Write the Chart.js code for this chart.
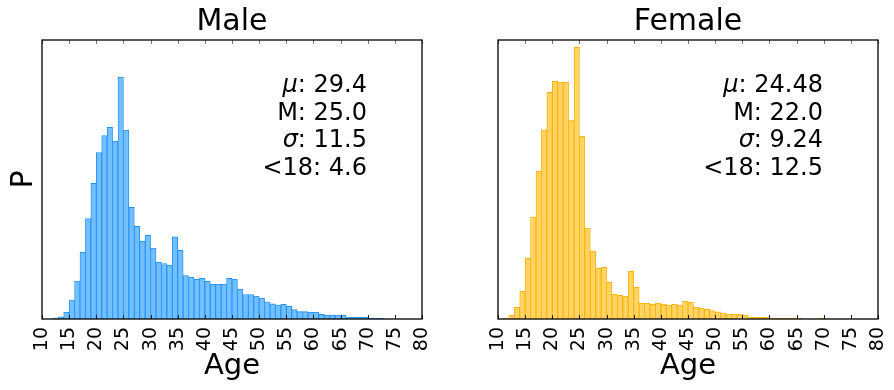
<!DOCTYPE html>
<html>
<head>
<meta charset="utf-8">
<script src="https://cdn.jsdelivr.net/npm/chart.js@4/dist/chart.umd.min.js"></script>
<style>
  body { margin: 0; background: #fff; }
  .panel { position: absolute; top: 0; width: 447px; height: 390px; }
</style>
</head>
<body>
<div class="panel" style="left:0"><canvas id="male" width="447" height="390"></canvas></div>
<div class="panel" style="left:447px"><canvas id="female" width="447" height="390"></canvas></div>
<script>
// ages are left bin edges (1 year bins), values are P in %
const maleAges = [12,13,14,15,16,17,18,19,20,21,22,23,24,25,26,27,28,29,30,31,32,33,34,35,36,37,38,39,40,41,42,43,44,45,46,47,48,49,50,51,52,53,54,55,56,57,58,59,60,61,62,63,64,65,66,67,68,69,70,71,72];
const maleP = [0.03,0.07,0.23,0.65,1.30,2.28,3.44,4.64,5.70,6.28,6.56,6.09,8.28,6.46,3.82,3.17,2.66,2.86,2.42,1.94,1.90,1.84,2.81,2.35,1.49,1.43,1.36,1.39,1.29,1.19,1.19,1.19,1.39,1.36,1.02,0.84,0.84,0.78,0.71,0.59,0.52,0.48,0.50,0.43,0.32,0.25,0.25,0.23,0.23,0.16,0.13,0.13,0.13,0.13,0.06,0.06,0.06,0.06,0.02,0.02,0.02];
const femaleAges = [11,12,13,14,15,16,17,18,19,20,21,22,23,24,25,26,27,28,29,30,31,32,33,34,35,36,37,38,39,40,41,42,43,44,45,46,47,48,49,50,51,52,53,54,55,56,57,58,59,60,61,62,63,64,65,66,67,68,69];
const femaleP = [0.02,0.13,0.41,0.98,2.15,3.61,5.24,6.71,8.04,8.43,8.41,8.40,7.06,9.64,6.48,3.22,2.41,1.80,1.83,1.30,0.88,0.84,0.80,1.69,1.12,0.56,0.56,0.52,0.56,0.52,0.49,0.52,0.49,0.63,0.59,0.41,0.38,0.34,0.30,0.25,0.21,0.17,0.17,0.17,0.13,0.08,0.06,0.06,0.06,0.02,0.02,0.02,0.02,0.02,0.02,0,0,0,0.02];
const statLabels = ['μ', 'M', 'σ', '<18'];
const maleStats = ['29.4', '25.0', '11.5', '4.6'];
const femaleStats = ['24.48', '22.0', '9.24', '12.5'];
const xTicks = [10,15,20,25,30,35,40,45,50,55,60,65,70,75,80];

Chart.defaults.font.family = '"DejaVu Sans"';
Chart.defaults.color = '#000';

// box round the plot, inward ticks top and bottom, stats text
const framePlugin = {
  id: 'frame',
  afterDatasetsDraw(chart) {
    const { ctx, chartArea: a, scales: { x } } = chart;
    const stats = chart.options.plugins.frame.stats;
    ctx.save();
    ctx.lineWidth = 1;
    xTicks.forEach(t => {
      const px = Math.round(x.getPixelForValue(t)) + 0.5;
      ctx.strokeStyle = '#777';
      ctx.beginPath();
      ctx.moveTo(px, a.top); ctx.lineTo(px, a.top + 4);
      ctx.stroke();
      ctx.strokeStyle = '#222';
      ctx.beginPath();
      ctx.moveTo(px, a.bottom); ctx.lineTo(px, a.bottom - 4);
      ctx.stroke();
    });
    ctx.strokeStyle = '#000';
    ctx.lineWidth = 1.3;
    ctx.strokeRect(a.left, a.top, a.width, a.height);

    const right = a.right - 55;
    ctx.fillStyle = '#000';
    ctx.textBaseline = 'alphabetic';
    ctx.textAlign = 'left';
    statLabels.forEach((lab, i) => {
      const y = a.top + 52 + i * 27.5;
      const rest = ': ' + stats[i];
      const italic = lab === 'μ' || lab === 'σ';
      const labFont = (italic ? 'italic ' : '') + '24px "DejaVu Sans"';
      ctx.font = '24px "DejaVu Sans"';
      const w2 = ctx.measureText(rest).width;
      ctx.font = labFont;
      const w1 = ctx.measureText(lab).width;
      ctx.fillText(lab, right - w2 - w1, y);
      ctx.font = '24px "DejaVu Sans"';
      ctx.fillText(rest, right - w2, y);
    });
    ctx.restore();
  }
};

function makeChart(id, title, ages, values, stats, fill, edge, yMax, yWidth, padRight, yTitle) {
  return new Chart(document.getElementById(id), {
    type: 'bar',
    data: {
      datasets: [{
        data: ages.map((a, i) => ({ x: a + 0.5, y: values[i] })),
        backgroundColor: fill,
        borderColor: edge,
        borderWidth: 0.9,
        barPercentage: 1,
        categoryPercentage: 1
      }]
    },
    options: {
      responsive: false,
      animation: false,
      layout: { padding: { left: 0, right: padRight, top: 0, bottom: 0 } },
      plugins: {
        legend: { display: false },
        tooltip: { enabled: false },
        title: {
          display: true,
          text: title,
          fullSize: false,
          font: { size: 30, weight: 'normal' },
          padding: { top: 4, bottom: 0 }
        },
        frame: { stats: stats }
      },
      scales: {
        x: {
          type: 'linear',
          min: 10,
          max: 80,
          offset: false,
          grid: { display: false, drawTicks: false },
          border: { display: false },
          afterFit: s => { s.height = 71; s.paddingLeft = 0; s.paddingRight = 0; },
          afterBuildTicks: s => { s.ticks = xTicks.map(v => ({ value: v })); },
          ticks: {
            autoSkip: false,
            minRotation: 90,
            maxRotation: 90,
            padding: 8,
            font: { size: 19 }
          },
          title: {
            display: true,
            text: 'Age',
            font: { size: 29 },
            padding: { top: 0, bottom: 6 }
          }
        },
        y: {
          min: 0,
          max: yMax,
          grid: { display: false, drawTicks: false },
          border: { display: false },
          ticks: { display: false },
          afterFit: s => { s.width = yWidth; },
          title: {
            display: !!yTitle,
            text: yTitle || '',
            font: { size: 30 },
            padding: { top: 6, bottom: 0 }
          }
        }
      }
    },
    plugins: [framePlugin]
  });
}

makeChart('male', 'Male', maleAges, maleP, maleStats,
  '#73bffb', '#1e90ff', 9.55, 42, 25, 'P');
makeChart('female', 'Female', femaleAges, femaleP, femaleStats,
  '#ffd464', '#ffb000', 9.90, 51, 16, null);
</script>
</body>
</html>
